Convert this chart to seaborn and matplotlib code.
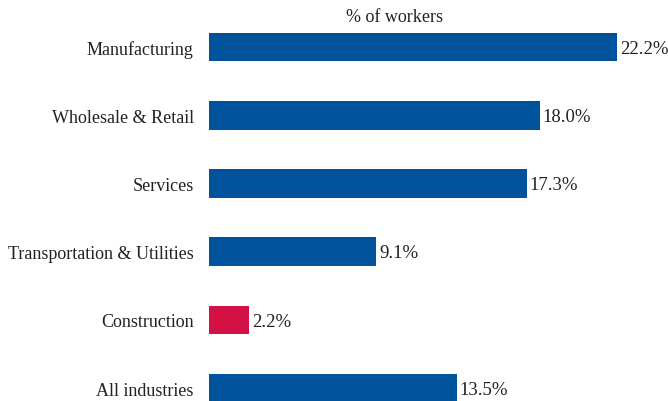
import numpy as np
import pandas as pd
import matplotlib
matplotlib.use('Agg')
import matplotlib.pyplot as plt
import seaborn as sns

industries = ['Manufacturing', 'Wholesale & Retail', 'Services',
              'Transportation & Utilities', 'Construction', 'All industries']
shares = [22.2, 18.0, 17.3, 9.1, 2.2, 13.5]
colors = ['#00539B', '#00539B', '#00539B', '#00539B', '#D31145', '#00539B']

sns.set_style('white')
plt.rcParams['font.family'] = ['Liberation Serif', 'DejaVu Serif']

data = pd.DataFrame({'industry': industries, 'share': shares})

fig = plt.figure(figsize=(6.68, 4.02), dpi=100)
ax = fig.add_axes([209 / 668, 0, 459 / 668, 1])
sns.barplot(data=data, x='share', y='industry', hue='industry', palette=colors,
            width=0.42, legend=False, ax=ax, saturation=1, linewidth=0)

ax.set_xlim(0, 459 / 18.38)
ax.set_ylim(5.19, -0.704)
for i, v in enumerate(shares):
    ax.text(v + 0.15, i + 0.02, f'{v:.1f}%', va='center', ha='left', fontsize=13.5, color='#222222')

ax.set_xlabel('')
ax.set_ylabel('')
ax.set_xticks([])
ax.tick_params(axis='y', length=0, pad=11, labelsize=13, labelcolor='#222222')
for s in ax.spines.values():
    s.set_visible(False)

fig.text(395 / 668, 1 - 18 / 402, '% of workers', ha='center', va='center',
         fontsize=13, color='#222222')

fig.savefig('out.png', dpi=100)
